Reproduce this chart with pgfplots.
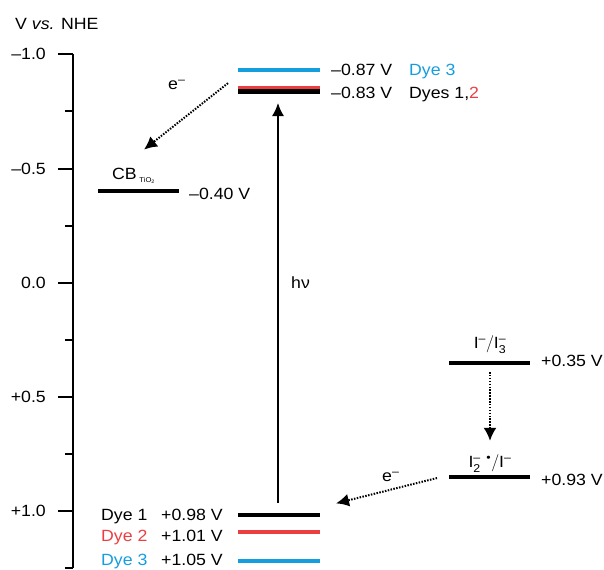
\documentclass[border=0pt]{standalone}
\usepackage{fontspec}
\setmainfont{Liberation Sans}[FakeStretch=1.09]
\usepackage{amsmath}
\usepackage{pgfplots}
\pgfplotsset{compat=1.18}
\usetikzlibrary{arrows.meta}
\definecolor{dyeblue}{RGB}{20,158,222}
\definecolor{dyered}{RGB}{236,62,64}

\begin{document}
\begin{tikzpicture}[font=\fontsize{16.3}{19}\selectfont, every node/.style={inner sep=0pt}]
\begin{axis}[
  scale only axis, width=531bp, height=513.9bp,
  xmin=73, xmax=604, ymin=-1, ymax=1.25, y dir=reverse,
  axis x line=none, axis y line*=left,
  y axis line style={line width=2bp},
  xtick=\empty,
  ytick={-1,-0.5,0,0.5,1},
  yticklabels={–1.0,–0.5,0.0,+0.5,+1.0},
  minor ytick={-0.75,-0.25,0.25,0.75,1.25},
  tick align=outside,
  major tick length=15bp, minor tick length=8bp,
  every tick/.style={black, line width=2bp},
  yticklabel style={font=\fontsize{16.3}{19}\selectfont, anchor=east, inner sep=0pt, xshift=-12bp},
  clip=false,
]
% corners of the whole figure
\coordinate (bbSW) at (axis cs:0,1.254);
\coordinate (bbNE) at (axis cs:604,-1.238);

% energy levels
\addplot[black, line width=4bp] coordinates {(98,-0.401) (179,-0.401)};
\addplot[dyeblue, line width=3.5bp] coordinates {(238,-0.931) (320,-0.931)};
\addplot[dyered, line width=3.5bp] coordinates {(238,-0.855) (320,-0.855)};
\addplot[black, line width=4.5bp] coordinates {(238,-0.837) (320,-0.837)};
\addplot[black, line width=4bp] coordinates {(238,1.017) (320,1.017)};
\addplot[dyered, line width=3.5bp] coordinates {(238,1.092) (320,1.092)};
\addplot[dyeblue, line width=3.5bp] coordinates {(238,1.219) (320,1.219)};
\addplot[black, line width=4bp] coordinates {(449,0.351) (530,0.351)};
\addplot[black, line width=4bp] coordinates {(449,0.851) (530,0.851)};

% arrows
\addplot[black, line width=1.5bp, -{Latex[length=13bp,width=12bp]}] coordinates {(278,0.964) (278,-0.787)};
\addplot[black, line width=2bp, dash pattern=on 1.5bp off 1.4bp, -{Latex[length=13bp,width=13bp]}] coordinates {(228,-0.874) (144,-0.583)};
\addplot[black, line width=2bp, dash pattern=on 1.5bp off 1.4bp, -{Latex[length=13bp,width=13bp]}] coordinates {(490,0.391) (490,0.692)};
\addplot[black, line width=2bp, dash pattern=on 1.5bp off 1.4bp, -{Latex[length=13bp,width=13bp]}] coordinates {(437,0.855) (336,0.966)};

% labels
\node[anchor=base west] at (axis cs:15,-1.107) {V \textit{vs.} NHE};
\node[anchor=base west] at (axis cs:331,-0.909) {–0.87 V};
\node[anchor=base west, text=dyeblue] at (axis cs:409,-0.909) {Dye 3};
\node[anchor=base west] at (axis cs:331,-0.807) {–0.83 V};
\node[anchor=base west] at (axis cs:409,-0.807) {Dyes 1,\textcolor{dyered}{2}};
\node[anchor=base west] at (axis cs:168,-0.844) {e\textsuperscript{–}};
\node[anchor=base west] at (axis cs:112,-0.450) {CB\,\raisebox{-2.5bp}{\fontsize{7}{8}\selectfont TiO\textsubscript{2}}};
\node[anchor=base west] at (axis cs:189,-0.366) {–0.40 V};
\node[anchor=base west] at (axis cs:291,0.023) {hν};
\node[anchor=base] at (axis cs:490,0.29) {$\text{I}^{\text{–}}/\text{I}_{\text{3}}^{\text{–}}$};
\node[anchor=base west] at (axis cs:541,0.368) {+0.35 V};
\node[anchor=base] at (axis cs:490,0.811) {$\text{I}_{\text{2}}^{\text{–}\;\;\text{•}}/\text{I}^{\text{–}}$};
\node[anchor=base west] at (axis cs:541,0.886) {+0.93 V};
\node[anchor=base west] at (axis cs:382,0.871) {e\textsuperscript{–}};
\node[anchor=base west] at (axis cs:101,1.043) {Dye 1};
\node[anchor=base west] at (axis cs:161,1.043) {+0.98 V};
\node[anchor=base west, text=dyered] at (axis cs:101,1.131) {Dye 2};
\node[anchor=base west] at (axis cs:161,1.131) {+1.01 V};
\node[anchor=base west, text=dyeblue] at (axis cs:101,1.238) {Dye 3};
\node[anchor=base west] at (axis cs:161,1.238) {+1.05 V};
\end{axis}
\pgfresetboundingbox
\useasboundingbox (bbSW) rectangle (bbNE);
\end{tikzpicture}
\end{document}
